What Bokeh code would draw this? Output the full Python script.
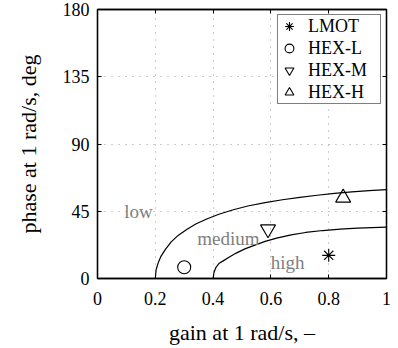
from bokeh.plotting import figure
from bokeh.models import LinearAxis, FixedTicker, Legend, LegendItem, Range1d
from bokeh.embed import file_html
from bokeh.resources import INLINE
from bokeh.core.properties import value

# ---- data ----
x_ticks = [0, 0.2, 0.4, 0.6, 0.8, 1.0]
x_tick_labels = ["0", "0.2", "0.4", "0.6", "0.8", "1"]
y_ticks = [0, 45, 90, 135, 180]
y_tick_labels = ["0", "45", "90", "135", "180"]

outer_x = [0.200, 0.203, 0.210, 0.220, 0.235, 0.255, 0.28, 0.31, 0.34, 0.38, 0.42,
           0.47, 0.52, 0.58, 0.64, 0.70, 0.76, 0.82, 0.88, 0.94, 1.00]
outer_y = [0, 6, 10.5, 15, 19.5, 24.5, 29, 33, 36.5, 40, 43,
           46, 48.5, 50.8, 52.7, 54.3, 55.7, 56.9, 57.9, 58.8, 59.5]

inner_x = [0.400, 0.403, 0.41, 0.42, 0.435, 0.455, 0.48, 0.51, 0.54, 0.58, 0.62,
           0.67, 0.72, 0.78, 0.84, 0.90, 0.95, 1.00]
inner_y = [0, 4, 7.5, 10, 11.8, 14.2, 17, 19.8, 22, 24.8, 27,
           29.2, 30.8, 32.1, 33.0, 33.7, 34.1, 34.4]

series_names = ["LMOT", "HEX-L", "HEX-M", "HEX-H"]
series_markers = ["asterisk", "circle", "inverted_triangle", "triangle"]
series_gain = [0.80, 0.30, 0.59, 0.85]
series_phase = [15.5, 7.5, 33, 54]
series_sizes = [13, 13, 15, 15]

region_labels = ["low", "medium", "high"]
region_x = [0.142, 0.453, 0.658]
region_y = [45, 26.5, 11]

FONT = "Liberation Serif"
FONT_Q = "'Liberation Serif', serif"

p = figure(width=398, height=348, x_range=Range1d(0, 1), y_range=Range1d(0, 180),
           output_backend="svg", toolbar_location=None,
           min_border_left=97, min_border_right=12, min_border_top=9, min_border_bottom=70)
p.background_fill_color = "white"
p.border_fill_color = "white"
p.outline_line_color = "black"
p.outline_line_width = 1.3

# grid
p.xgrid.ticker = FixedTicker(ticks=x_ticks)
p.ygrid.ticker = FixedTicker(ticks=y_ticks)
for g in (p.xgrid, p.ygrid):
    g.grid_line_color = "#9a9a9a"
    g.grid_line_dash = "1 6"
    g.grid_line_width = 1

# axes
def style_axis(ax, ticks, labels, show_labels=True):
    ax.ticker = FixedTicker(ticks=ticks)
    if show_labels:
        ax.major_label_overrides = {t: l for t, l in zip(ticks, labels)}
    else:
        ax.major_label_overrides = {t: "" for t in ticks}
    ax.major_tick_in = 4
    ax.major_tick_out = 0
    ax.minor_tick_in = 0
    ax.minor_tick_out = 0
    ax.axis_line_color = "black"
    ax.axis_line_width = 1.3
    ax.major_tick_line_color = "black"
    ax.major_label_text_font = FONT_Q
    ax.major_label_text_font_size = "18px"
    ax.major_label_text_color = "black"
    ax.axis_label_text_font = FONT
    ax.axis_label_text_font_style = "normal"
    ax.axis_label_text_font_size = "22px"
    ax.axis_label_text_color = "black"

style_axis(p.xaxis[0], x_ticks, x_tick_labels)
style_axis(p.yaxis[0], y_ticks, y_tick_labels)
p.xaxis[0].axis_label = "gain at 1 rad/s, –"
p.yaxis[0].axis_label = "phase at 1 rad/s, deg"
p.xaxis[0].major_label_standoff = 13
p.yaxis[0].major_label_standoff = 8
p.xaxis[0].axis_label_standoff = 12
p.yaxis[0].axis_label_standoff = 19

top_ax = LinearAxis()
right_ax = LinearAxis()
style_axis(top_ax, x_ticks, x_tick_labels, show_labels=False)
style_axis(right_ax, y_ticks, y_tick_labels, show_labels=False)
top_ax.major_label_standoff = 0
right_ax.major_label_standoff = 0
p.add_layout(top_ax, "above")
p.add_layout(right_ax, "right")

# boundary curves
p.line(outer_x, outer_y, line_color="black", line_width=1.2)
p.line(inner_x, inner_y, line_color="black", line_width=1.2)

# region labels
p.text(x=region_x, y=region_y, text=region_labels, text_font=value(FONT),
       text_font_size="19px", text_color="#808080", text_align="center",
       text_baseline="alphabetic")

# markers
items = []
for name, mk, gx, ph, sz in zip(series_names, series_markers, series_gain, series_phase, series_sizes):
    r = p.scatter([gx], [ph], marker=mk, size=sz, line_color="black", line_width=1.1,
                  fill_color=None)
    items.append(LegendItem(label=name, renderers=[r]))

legend = Legend(items=items, location=(180, 174))
legend.label_text_font = FONT_Q
legend.label_text_font_size = "18px"
legend.label_text_color = "black"
legend.border_line_color = "black"
legend.border_line_width = 1
legend.background_fill_color = "white"
legend.background_fill_alpha = 1
legend.padding = 0
legend.spacing = 0
legend.margin = 0
legend.glyph_width = 22
legend.glyph_height = 22
legend.label_height = 22
legend.label_width = 72
legend.label_standoff = 8
p.add_layout(legend)

open("out.html", "w").write(file_html(p, INLINE))
